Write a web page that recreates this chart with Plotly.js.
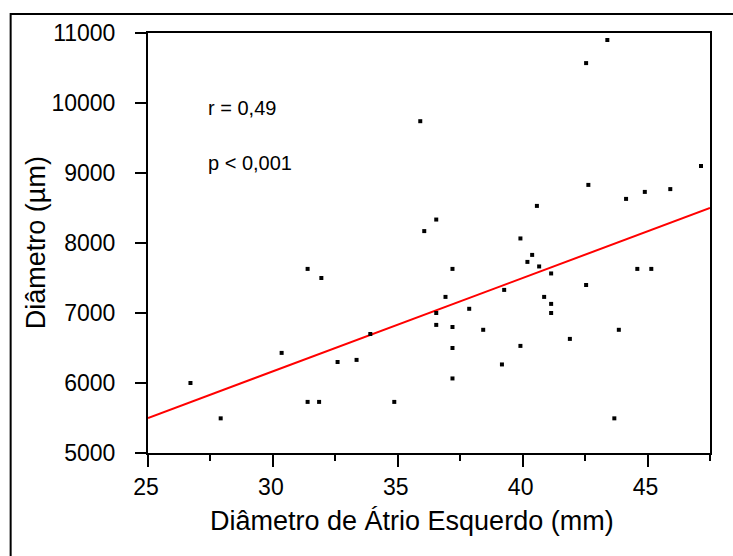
<!DOCTYPE html>
<html>
<head>
<meta charset="utf-8">
<script src="https://cdn.plot.ly/plotly-3.0.1.min.js"></script>
<style>
  html, body { margin: 0; padding: 0; background: #ffffff; }
  #chart { width: 733px; height: 556px; }
</style>
</head>
<body>
<div id="chart"></div>
<script>
// Left atrial diameter (mm) and measured diameter (µm) per subject
const atrio = [
  35.9, 36.06, 42.54, 43.39, 47.14, 42.63, 44.14, 44.89, 45.91, 40.57,
  36.54, 31.39, 31.94, 26.7, 27.91, 30.35, 33.9, 32.59, 33.35, 31.39,
  31.85, 34.86, 39.91, 37.19, 40.38, 40.19, 40.66, 41.14, 39.26, 36.91,
  42.54, 44.59, 45.15, 36.54, 37.86, 40.86, 41.14, 41.14, 36.54, 37.19,
  38.42, 43.85, 41.89, 37.19, 39.91, 39.17, 37.19, 43.67
];
const diametro = [
  9740, 8170, 10570, 10900, 9100, 8830, 8630, 8730, 8770, 8530,
  8335, 7630, 7500, 6000, 5495, 6430, 6700, 6300, 6330, 5730,
  5730, 5730, 8065, 7630, 7830, 7730, 7665, 7565, 7330, 7230,
  7400, 7630, 7630, 7000, 7060, 7230, 7130, 7000, 6830, 6800,
  6760, 6760, 6630, 6500, 6530, 6265, 6065, 5495
];

// Least-squares line end points
const fitX = [25, 47.5];
const fitY = [5500, 8500];

// Statistics printed inside the plot
const statsText = ['r = 0,49', 'p < 0,001'];
const statsY = [9930, 9150];

const xTitle = 'Diâmetro de Átrio Esquerdo (mm)';
const yTitle = 'Diâmetro (µm)';

const FONT = '"Liberation Sans", Arial, Helvetica, sans-serif';

const traces = [
  {
    x: fitX, y: fitY, type: 'scatter', mode: 'lines',
    line: { color: '#ff0000', width: 2 },
    hoverinfo: 'skip', showlegend: false
  },
  {
    x: atrio, y: diametro, type: 'scatter', mode: 'markers',
    marker: { symbol: 'square', size: 4, color: '#000000' },
    showlegend: false
  }
];

const annotations = statsText.map((t, i) => ({
  x: 27.34, y: statsY[i], xref: 'x', yref: 'y',
  xanchor: 'left', yanchor: 'middle', showarrow: false,
  text: t, font: { family: FONT, size: 20, color: '#000000' }
}));

// axis titles, placed in paper units around the plot area
annotations.push({
  x: 0.4693, y: -0.163, xref: 'paper', yref: 'paper',
  xanchor: 'center', yanchor: 'middle', showarrow: false,
  text: xTitle, font: { family: FONT, size: 27, color: '#000000' }
});
annotations.push({
  x: -0.199, y: 0.5, xref: 'paper', yref: 'paper',
  xanchor: 'center', yanchor: 'middle', showarrow: false, textangle: -90,
  text: yTitle, font: { family: FONT, size: 27, color: '#000000' }
});

const layout = {
  width: 733, height: 556,
  margin: { l: 148, r: 23, t: 33, b: 103, pad: 0 },
  paper_bgcolor: '#ffffff', plot_bgcolor: '#ffffff',
  font: { family: FONT, color: '#000000', size: 23 },
  showlegend: false,
  xaxis: {
    range: [25, 47.5], autorange: false,
    tickvals: [25, 30, 35, 40, 45],
    ticktext: ['25', '30', '35', '40', '45'],
    ticks: 'outside', ticklen: 12, tickwidth: 2, tickcolor: '#000000',
    minor: { tickvals: [27.5, 32.5, 37.5, 42.5, 47.5], ticks: 'outside', ticklen: 6, tickwidth: 2, tickcolor: '#000000' },
    showgrid: false, zeroline: false,
    showline: true, linecolor: '#000000', linewidth: 2, mirror: true,
    tickfont: { family: FONT, size: 23, color: '#000000' },
    ticklabelshift: -2
  },
  yaxis: {
    range: [5000, 11000], autorange: false,
    tickvals: [5000, 6000, 7000, 8000, 9000, 10000, 11000],
    ticktext: ['5000', '6000', '7000', '8000', '9000', '10000', '11000'],
    ticks: 'outside', ticklen: 11, tickwidth: 2, tickcolor: '#000000',
    showgrid: false, zeroline: false,
    showline: true, linecolor: '#000000', linewidth: 2, mirror: true,
    tickfont: { family: FONT, size: 23, color: '#000000' },
    ticklabelstandoff: 15
  },
  annotations: annotations,
  shapes: [
    // frame around the whole figure
    {
      type: 'rect', xref: 'paper', yref: 'paper',
      x0: -0.2444, x1: 1.2, y0: -0.4, y1: 1.0452,
      line: { color: '#000000', width: 2 }, fillcolor: 'rgba(0,0,0,0)',
      layer: 'above'
    }
  ]
};

Plotly.newPlot('chart', traces, layout, { staticPlot: true, displayModeBar: false });
</script>
</body>
</html>
